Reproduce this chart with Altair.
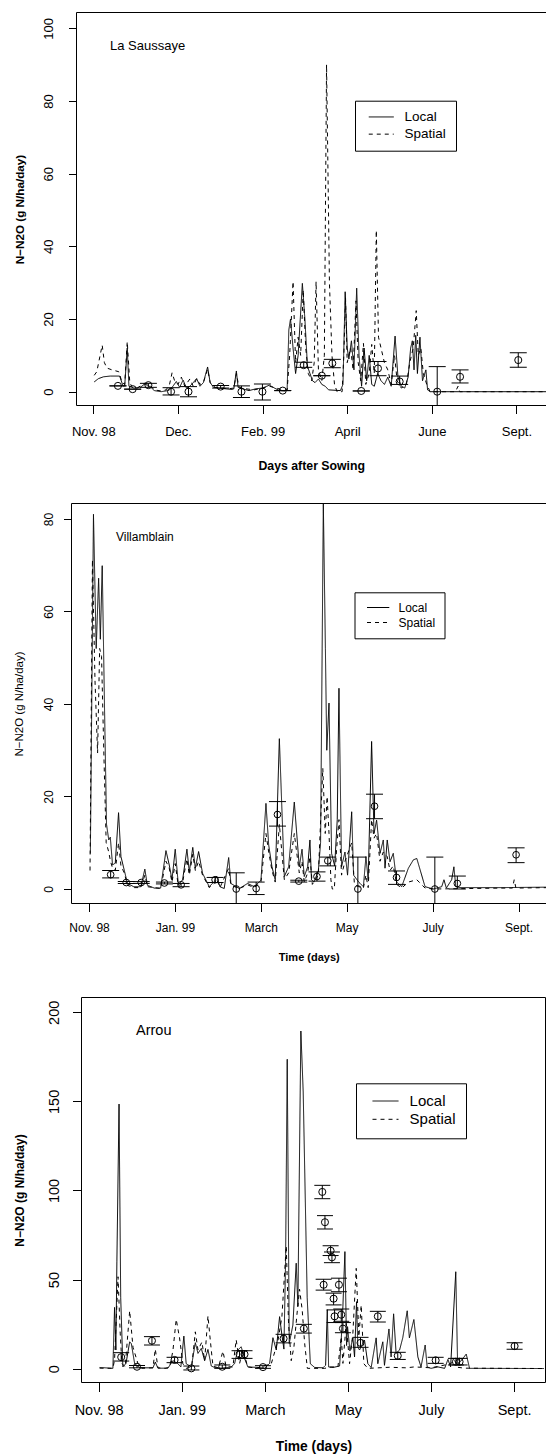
import altair as alt
import pandas as pd

FONT = "Liberation Sans"
TICK_DAYS = [0, 50, 100, 150, 200, 250]
P1_TICK_LABELS = ["Nov. 98", "Dec.", "Feb. 99", "April", "June", "Sept."]
P23_TICK_LABELS = ["Nov. 98", "Jan. 99", "March", "May", "July", "Sept."]
SERIES = ["Local", "Spatial"]
YTITLE = "N\u2212N2O (g N/ha/day)"

# ---------------- Panel 1 : La Saussaye ----------------
P1_LOCAL = [(0.5, 2.7), (3, 3.6), (6, 4.1), (10, 4.3), (15.5, 4.3), (17.5, 1.6), (18.5, 1.6), (20, 12), (21, 1.5),
            (24, 1.0), (28, 1.3), (30, 2.0), (32, 1.8), (34, 1.2), (36, 0.3), (40, 0), (44, 0.3), (45, 0.5),
            (47, 1.5), (49, 2.8), (51, 1.2), (53, 3.2), (55, 1.0), (57, 1.5), (59, 2.5), (61, 3.6), (63, 1.5),
            (65, 2.5), (67.5, 6.8), (69, 2.5), (71, 1.2), (74, 1.0), (78, 0.8), (82, 0.6), (83, 0.8), (84.5, 5.7),
            (85.5, 1.2), (88, 0.8), (92, 0.3), (96, 0.8), (100, 1.0), (104, 1.8), (107, 1.0), (110, 0.3),
            (113, 0.2), (114.5, 0.5), (115.5, 17), (116.5, 20), (118, 12), (119.5, 5), (121, 10), (123.5, 29.8),
            (125, 20), (126.5, 7), (128, 5), (129.5, 3), (131, 2.5), (133, 3.5), (135, 2), (137, 1.5), (139, 0.5),
            (146, 0.3), (147.5, 2), (148.8, 27.5), (150, 12), (151, 9), (152.5, 14), (154, 6), (155.6, 28.5),
            (157, 10), (158.5, 1.5), (160, 12), (161.5, 3), (163, 10), (164.5, 2), (166, 1.5), (168, 5), (170, 3),
            (172, 2), (174, 4), (176, 1.5), (178.3, 15.3), (180, 4), (182, 1.5), (184, 1), (186, 4), (187.5, 12),
            (188.5, 14), (189.5, 6), (190.5, 15.5), (191.5, 5), (193, 15), (194.5, 3), (196.5, 6), (197.5, 0.5),
            (199, 0), (268, 0)]
P1_SPATIAL = [(0.5, 4.5), (2, 5.5), (5.2, 12.8), (6.5, 8), (8, 6.5), (11, 6), (15, 5.5), (17, 2.5), (18.5, 2),
              (20, 13.8), (21.5, 2.5), (23, 1.2), (26, 1.0), (30, 2.3), (33, 2.0), (36, 0.5), (40, 0.2), (43, 0.5),
              (45, 2), (46.5, 5.2), (48, 3), (50, 2), (52, 4), (54, 1.5), (57, 3.5), (59, 1.5), (61, 3.6), (63, 2),
              (65, 2.5), (67.5, 6.2), (69, 2.5), (72, 1.2), (76, 1.0), (80, 0.8), (83, 1), (84.5, 5), (86, 1.3),
              (90, 0.8), (95, 0.5), (100, 1.0), (104, 1.5), (108, 1.0), (112, 0.5), (114.5, 0.5), (116, 10),
              (118, 30.3), (119.5, 8), (121, 15), (122.5, 10), (124, 28), (125.5, 12), (127, 5), (129, 3),
              (130.5, 8), (131.6, 30.3), (133, 6), (135, 3), (136.5, 10), (137.8, 90), (139.5, 30), (141, 10),
              (142.5, 2), (144, 0), (147, 0), (148, 10), (149, 26), (150, 8), (152, 12), (153.5, 6), (155.2, 25),
              (156.5, 8), (158, 3), (159.6, 13.3), (161, 2), (163, 5), (164.5, 13), (166, 5), (167.2, 44.4),
              (168.5, 15), (170, 12), (172, 8), (174, 6), (176, 2), (178, 10), (179.5, 3), (182, 1), (185, 2),
              (187, 8), (189, 12), (190.8, 22.3), (192, 10), (193.5, 12), (195, 5), (197, 2), (199, 0), (214, 0),
              (215.5, 1.5), (216.5, 0), (268, 0)]
# day, observed value, lower bar, upper bar
P1_OBS = [(14.5, 1.6, 1.6, 1.6), (23.2, 0.7, 0.7, 0.7), (32.5, 1.8, 1.2, 2.3), (45.9, 0.0, -0.9, 1.1),
          (56.2, 0.0, -1.4, 1.4), (75.2, 1.4, 1.0, 1.7), (87.5, 0.0, -1.6, 1.6), (99.9, 0.0, -2.3, 2.1),
          (111.9, 0.3, 0.3, 0.3), (124.3, 7.3, 6.7, 8.1), (135.0, 4.4, 4.4, 4.4), (141.2, 7.8, 6.6, 8.9),
          (158.3, 0.2, 0.2, 0.2), (168.2, 6.4, 4.4, 8.3), (181.0, 2.8, 2.0, 4.3), (203.2, 0.0, -6.9, 6.9),
          (216.7, 4.1, 2.4, 6.0), (251.1, 8.7, 6.7, 10.7)]

# ---------------- Panel 2 : Villamblain ----------------
P2_LOCAL = [(0.8, 7.7), (2.6, 81.0), (4.2, 52), (5.6, 67.2), (6.6, 54), (7.7, 69.9), (9.0, 40), (10.2, 14),
            (11.5, 10.6), (12.4, 11.2), (13.7, 5.2), (15.3, 5.6), (17.2, 16.5), (18.6, 7.0), (20.5, 4.1),
            (22.4, 1.2), (26, 0.5), (30.2, 0.5), (32.5, 4.3), (34, 0.8), (38, 0.2), (41.7, 0.2), (44.8, 8.3),
            (46.7, 5.2), (48.3, 2.0), (50.2, 8.6), (52, 0.9), (54.5, 2.0), (57, 8.6), (58.4, 3.7), (60.4, 9.0),
            (61.9, 4.5), (63.8, 8.1), (66.1, 3.4), (70, 0.5), (72.9, 1.6), (74.3, 2.8), (76.2, 0.5), (78.7, 0.1),
            (81.3, 6.8), (82.6, 1.2), (87.5, 0.1), (92.3, 1.2), (96.2, 0.5), (100.1, 1.9), (103, 18.5),
            (104.6, 9.5), (106.5, 4.8), (108.4, 2.0), (110.8, 32.5), (113.7, 2.7), (116.2, 4.8), (119.5, 18.8),
            (122.4, 4.8), (124, 8.6), (125.3, 2.7), (127.3, 4.8), (128.6, 10.6), (129.5, 2.0), (131, 1.5),
            (133.5, 4.0), (134.8, 10), (136.4, 90), (137.6, 52), (138.4, 30), (139.7, 40.2), (141.2, 7.7),
            (143, 5), (144.5, 15), (145.5, 43.4), (147, 4.8), (149, 8), (150.5, 3), (152.9, 16.7), (154, 3),
            (157, 1.5), (159.7, 0.5), (161.2, 7.0), (162.5, 2), (164.5, 31.9), (165.9, 12.0), (167.4, 14.9),
            (169.4, 7.7), (171.3, 10.6), (172.3, 4.5), (173.6, 10.6), (175.2, 5.9), (177.1, 7.7), (179.1, 1.5),
            (182, 0.5), (185.9, 4.5), (188.8, 6.3), (190.8, 6.6), (195.6, 0.5), (200.4, 0), (205.3, 0.5),
            (206.6, 2.0), (208, 0.2), (211.1, 2), (212.4, 4.8), (213.5, 0.5), (215.9, 0.3), (240, 0.3), (268, 0.4)]
P2_SPATIAL = [(0.6, 4.0), (2.0, 71.2), (3.5, 45), (5.0, 29.4), (6.2, 52), (7.3, 50.3), (8.6, 30), (10.0, 10),
              (11.5, 8), (12.5, 6), (13.7, 4.5), (15.3, 4), (17.2, 10), (18.6, 5), (20.5, 3.5), (22.4, 0.8),
              (26, 0.3), (30.2, 0.3), (32.5, 3.0), (34, 0.5), (41.7, 0.1), (44.8, 6), (46.7, 4.5), (48.3, 1.5),
              (50.2, 5.5), (52, 0.6), (54.5, 1.5), (57, 6.5), (58.4, 3), (60.4, 7.5), (61.9, 4), (63.8, 6),
              (66.1, 3), (70, 0.3), (72.9, 1.2), (74.3, 2.2), (76.2, 0.3), (81.3, 4.5), (82.6, 0.8), (87.5, 0.1),
              (92.3, 0.9), (96.2, 0.3), (100.1, 1.5), (103, 12), (104.6, 8), (106.5, 4), (108.4, 1.5), (110.8, 14),
              (113.7, 2), (116.2, 3.5), (119.5, 12), (122.4, 3.5), (124, 6), (125.3, 1.5), (127.3, 3.5),
              (128.6, 7), (130, 1), (133.5, 3), (136.1, 26.1), (137.5, 12), (138.6, 20), (139.7, 12), (140.8, 2),
              (141.6, 0), (142.8, 0), (144, 8), (145.5, 15), (147, 3), (149, 6), (152.9, 10), (154.5, 1),
              (157, 0.5), (159.7, 0.2), (161.2, 3), (162.5, 0.3), (164.5, 15), (165.9, 11), (167.4, 12),
              (169.4, 6), (171.3, 8), (173.6, 7), (175.2, 4), (177.1, 5), (179.1, 1), (182, 0.2), (185.9, 1.5),
              (190.8, 2), (195.6, 0.2), (200.4, 0), (240, 0.2), (246.5, 0.2), (247.5, 2.0), (248.5, 0.2),
              (268, 0.3)]
P2_OBS = [(12.6, 3.1, 2.4, 4.0), (21.7, 1.4, 1.2, 1.6), (30.4, 1.4, 1.2, 1.6), (43.9, 1.3, 1.1, 1.5),
          (53.6, 0.9, 0.5, 1.2), (73.4, 2.0, 1.4, 2.5), (85.7, 0.0, -3.5, 3.5), (97.3, 0.1, -1.2, 1.5),
          (109.7, 16.1, 13.6, 18.9), (122.1, 1.7, 1.5, 1.9), (132.7, 2.7, 1.7, 3.7), (139.0, 6.1, 5.0, 6.9),
          (156.5, 0.0, -6.9, 6.9), (166.2, 17.9, 15.2, 20.5), (179.0, 2.5, 1.0, 3.9), (201.3, 0.0, -6.9, 6.9),
          (214.4, 1.2, 0.0, 2.8), (248.6, 7.4, 5.7, 8.9)]

# ---------------- Panel 3 : Arrou ----------------
P3_LOCAL = [(0.6, 0.7), (5.6, 0.4), (8.6, 0.2), (9.6, 34.4), (10.4, 10.5), (11.0, 60), (12.3, 148.5), (13.3, 40),
            (14.6, 1), (16.5, 3), (18.7, 15.1), (19.7, 14), (21.7, 2.8), (25, 0.5), (32.7, 0.5), (34.1, 3.7),
            (35.7, 0.3), (41.7, 0.3), (44.7, 4.5), (47.7, 2.8), (49.5, 1), (51.3, 18.3), (52.7, 2.8), (55.8, 1),
            (58.2, 14.6), (59.8, 8.6), (61.8, 11.4), (63.8, 4.5), (65.8, 10.8), (67.8, 1.5), (69.8, 0.7),
            (73.8, 0.2), (79.8, 1), (81.8, 2.8), (83.8, 10.5), (85.8, 12.3), (87.8, 5.8), (89.8, 1), (95.9, 0.7),
            (99.9, 0.2), (102.9, 3), (104.9, 17.4), (106.9, 10.5), (108.9, 29.2), (110.3, 18.9), (111.5, 11),
            (112.5, 60), (113.5, 173.6), (114.7, 14.2), (116.9, 24.5), (118.9, 59.2), (119.9, 35), (121.7, 189.5),
            (123.1, 155.4), (125.5, 40), (127.4, 2.8), (130, 0.7), (135, 0.5), (136.6, 2), (137.6, 33.1),
            (138.4, 1.0), (141, 0.7), (145, 1.5), (146.2, 20), (147, 35), (148.2, 65.7), (149.2, 13),
            (149.8, 23.6), (151.2, 10), (153, 17.3), (154, 6.6), (155.2, 37.6), (156, 12), (157, 10.5), (160, 16),
            (162, 2.8), (164, 0.7), (167, 17.3), (168, 2.8), (171, 15.1), (172, 1.9), (174.7, 22.3), (176, 6.6),
            (177.5, 30.8), (179, 8.6), (181.1, 10.5), (183, 17.3), (185.7, 32.5), (187, 17.3), (189.7, 27.6),
            (192.1, 6.6), (194, 1), (196.5, 13.3), (197.7, 1), (200, 0.2), (204.2, 1), (208.2, 0.2), (210.2, 5.2),
            (211.8, 1), (214.9, 54.4), (216, 2.8), (218.2, 4.5), (221.2, 8.2), (223.2, 0.2), (268, 0.1)]
P3_SPATIAL = [(0.6, 0.3), (8.6, 0.2), (9.6, 5), (11.7, 51.6), (13.0, 20), (14.0, 3), (16, 1), (18.7, 32.5),
              (20.7, 12), (23.7, 2.8), (26, 0.3), (32.7, 0.5), (34.1, 11), (35.7, 0.5), (40, 0.2), (42.7, 0.8),
              (44.7, 10), (46.7, 27.7), (48.7, 17.3), (50.7, 2.8), (52.7, 0.2), (56, 1), (58.2, 20.7),
              (59.8, 10.5), (62.2, 15), (63.8, 4.5), (65.8, 29.6), (67.2, 16), (68.8, 1.5), (72, 0.5), (74.8, 9.8),
              (76.8, 1), (80.8, 1), (82.8, 16.2), (84.8, 2.8), (86.8, 10.5), (89.8, 1), (95, 0.3), (103.9, 2.8),
              (107.9, 15.6), (110.3, 29.2), (112.9, 68.9), (114.3, 25), (115.9, 4.5), (117.5, 12), (119.3, 30),
              (120.9, 44.6), (122.5, 33), (124, 14), (125.6, 0.2), (136, 0.2), (140, 1), (144, 1), (146, 18),
              (147, 3), (149, 25.4), (151, 2.8), (153, 20), (155, 56.3), (156.6, 18), (158, 35.7), (159.6, 2.8),
              (162, 0.2), (175, 0.8), (185, 0.5), (190, 1), (200, 0.5), (212, 2.8), (214, 5.2), (216, 0.8),
              (220, 0.3), (268, 0.1)]
P3_OBS = [(13.6, 6.5, 4.3, 9.0), (23.1, 1.1, 0.5, 1.8), (32.1, 15.7, 13.3, 18.0), (45.7, 4.9, 3.4, 6.4),
          (55.8, 0.2, -0.7, 1.5), (74.4, 1.1, 0.2, 2.1), (84.8, 8.1, 5.8, 10.1), (87.8, 8.1, 5.8, 10.1),
          (98.9, 0.9, 0.2, 1.7), (111.3, 16.9, 14.5, 19.3), (123.5, 22.5, 20.0, 24.9), (134.6, 99.2, 95.4, 102.9),
          (136.2, 82.2, 78.4, 85.9), (139.6, 66.2, 63.5, 69.0), (140.4, 62.5, 59.5, 65.5), (135.4, 47.1, 44.1, 50.2),
          (144.6, 47.1, 43.2, 50.8), (141.4, 39.3, 35.8, 42.4), (146.0, 30.3, 26.6, 33.5), (142.0, 29.4, 25.9, 33.0),
          (147.0, 22.5, 20.2, 25.9), (157.6, 14.5, 12.0, 17.6), (168.0, 29.4, 26.2, 32.2), (180.0, 7.3, 5.2, 9.2),
          (202.8, 4.7, 3.0, 6.4), (215.0, 3.9, 2.1, 5.8), (217.2, 3.9, 2.1, 5.8), (250.3, 12.7, 10.9, 14.6)]

SITE_NAMES = ["La Saussaye", "Villamblain", "Arrou"]
SITE_LABEL_POS = [(9.8, 95.1), (15.7, 76.2), (22.5, 189.5)]

W, H = 546, 1454


def label_expr(labels):
    expr = "''"
    for d, lab in reversed(list(zip(TICK_DAYS, labels))):
        expr = f"datum.value == {d} ? '{lab}' : ({expr})"
    return expr


ONE = pd.DataFrame({"k": [0]})


def legend_for(st):
    # legend symbol: a horizontal stroke drawn as a custom path so that the row height
    # follows the label font and not the stroke length
    s = 10.0                      # nominal symbol size (px)
    scale = s / 2
    start = (st["lg_line_start"] - st["lgpad"] - s / 2) / scale
    end = start + st["lg_line_len"] / scale
    path = f"M{start:.3f},0H{end:.3f}"
    return alt.Legend(title=None, orient="none", legendX=st["lgx"], legendY=st["lgy"], strokeColor="black",
                      fillColor="white", padding=st["lgpad"], rowPadding=st["lgrow"], symbolType=path,
                      symbolSize=s * s, symbolStrokeWidth=1, symbolStrokeColor="black", symbolFillColor="transparent",
                      labelFontSize=st["lgfs"], labelFont=FONT, labelColor="black",
                      labelOffset=st["lg_label_x"] - st["lgpad"] - s)


def panel(local, spatial, obs, site, site_pos, tick_labels, st):
    lines_df = pd.DataFrame(
        [{"day": d, "value": v, "series": "Local"} for d, v in local]
        + [{"day": d, "value": v, "series": "Spatial"} for d, v in spatial]
    )
    obs_df = pd.DataFrame(obs, columns=["day", "val", "lo", "hi"])
    txt_df = pd.DataFrame({"day": [site_pos[0]], "val": [site_pos[1]], "name": [site]})
    left, right, top, bot = st["left"], st["right"], st["top"], st["bot"]

    xs = alt.Scale(domain=[TICK_DAYS[0], TICK_DAYS[-1]], range=st["xrange"], nice=False, zero=False)
    ys = alt.Scale(domain=st["ydom"], range=[bot, top], nice=False, zero=False, clamp=True)
    xaxis = alt.Axis(orient="bottom", offset=bot - H, values=TICK_DAYS, labelExpr=label_expr(tick_labels),
                     title=st["xtitle"], grid=False, domain=False, ticks=True, tickSize=st["tick"],
                     tickColor="black", tickWidth=1, labelFontSize=st["lfs"], labelFont=FONT, labelColor="black",
                     labelPadding=st["xlpad"], labelBaseline="middle", labelFlush=False, labelOverlap=False,
                     titleFont=FONT, titleFontSize=st["xtfs"], titleFontWeight="bold", titleColor="black",
                     titleX=(left + right) / 2, titleY=st["xty"], titleAlign="center", titleBaseline="middle")
    yaxis = alt.Axis(orient="left", offset=-left, values=st["yticks"], title=YTITLE, grid=False, domain=False,
                     tickSize=st["tick"], tickColor="black", tickWidth=1, labelFontSize=st["lfs"], labelFont=FONT,
                     labelColor="black", labelAngle=270, labelAlign="center", labelBaseline="middle",
                     labelPadding=st["ylpad"], labelFlush=False, labelOverlap=False,
                     titleFont=FONT, titleFontSize=st["ytfs"], titleFontWeight=st["ytfw"], titleColor="black",
                     titleAngle=270, titleAlign="center", titleBaseline="middle", titleX=st["ytitle_x"] - left,
                     titleY=(top + bot) / 2)
    X = alt.X("day:Q", scale=xs, axis=xaxis)

    lines = alt.Chart(lines_df).mark_line(color="black", strokeWidth=1).encode(
        x=X,
        y=alt.Y("value:Q", scale=ys, axis=yaxis),
        strokeDash=alt.StrokeDash("series:N", scale=alt.Scale(domain=SERIES, range=[[1, 0], [4, 4]]),
                                  legend=legend_for(st)),
    )
    base = alt.Chart(obs_df)
    bars = base.mark_rule(color="black", strokeWidth=1).encode(
        x=X, y=alt.Y("lo:Q", scale=ys, axis=yaxis), y2="hi:Q")
    cap_lo = base.mark_tick(orient="horizontal", color="black", size=st["cap"], thickness=1,
                            opacity=1).encode(x=X, y=alt.Y("lo:Q", scale=ys, axis=yaxis))
    cap_hi = base.mark_tick(orient="horizontal", color="black", size=st["cap"], thickness=1,
                            opacity=1).encode(x=X, y=alt.Y("hi:Q", scale=ys, axis=yaxis))
    pts = base.mark_point(shape="circle", filled=False, color="black", size=st["pt"], strokeWidth=1,
                          opacity=1).encode(x=X, y=alt.Y("val:Q", scale=ys, axis=yaxis))
    txt = alt.Chart(txt_df).mark_text(align="left", baseline="middle", font=FONT, fontSize=st["afs"],
                                      color="black").encode(x=X, y=alt.Y("val:Q", scale=ys, axis=yaxis),
                                                            text="name:N")
    # plot box
    fr = alt.Chart(ONE)
    frame = [
        fr.mark_rule(color="black", strokeWidth=1).encode(x=alt.value(left), y=alt.value(top), y2=alt.value(bot)),
        fr.mark_rule(color="black", strokeWidth=1).encode(x=alt.value(left), x2=alt.value(right), y=alt.value(top)),
        fr.mark_rule(color="black", strokeWidth=1).encode(x=alt.value(left), x2=alt.value(right), y=alt.value(bot)),
    ]
    if right < W:
        frame.append(fr.mark_rule(color="black", strokeWidth=1).encode(
            x=alt.value(right), y=alt.value(top), y2=alt.value(bot)))
    return alt.layer(lines, bars, cap_lo, cap_hi, pts, txt, *frame)


S1 = dict(left=76.5, right=W, top=12.5, bot=405.5, xrange=[93.4, 516.4], ydom=[-3.80, 104.35],
          yticks=[0, 20, 40, 60, 80, 100], lfs=13, tick=8, ylpad=20.2, xlpad=18.2, xtitle="Days after Sowing",
          xtfs=12.3, xty=59.5, ytfs=11.7, ytfw="bold", ytitle_x=19,
          lgx=355, lgy=100.7, lgpad=9.5, lgrow=2.2, lgfs=13.5, lg_line_start=12, lg_line_len=25, lg_label_x=46,
          afs=13, cap=17, pt=50)
S2 = dict(left=71.5, right=W, top=503.5, bot=903.5, xrange=[89.0, 518.5], ydom=[-3.135, 83.35],
          yticks=[0, 20, 40, 60, 80], lfs=12, tick=8, ylpad=15.2, xlpad=15.8, xtitle="Time (days)",
          xtfs=11, xty=54, ytfs=11.5, ytfw="normal", ytitle_x=19,
          lgx=354.5, lgy=592.3, lgpad=9.2, lgrow=3, lgfs=12, lg_line_start=11.5, lg_line_len=22.3, lg_label_x=42,
          afs=12, cap=17, pt=45)
S3 = dict(left=81.5, right=545.5, top=997.5, bot=1382.5, xrange=[98.6, 514.1], ydom=[-7.74, 208.3],
          yticks=[0, 50, 100, 150, 200], lfs=14.5, tick=9, ylpad=18.3, xlpad=19.2, xtitle="Time (days)",
          xtfs=13.8, xty=64.2, ytfs=12, ytfw="bold", ytitle_x=19.2,
          lgx=356, lgy=1083.3, lgpad=10.2, lgrow=2.3, lgfs=15, lg_line_start=14, lg_line_len=26, lg_label_x=48.6,
          afs=14.5, cap=16, pt=50)

p1 = panel(P1_LOCAL, P1_SPATIAL, P1_OBS, SITE_NAMES[0], SITE_LABEL_POS[0], P1_TICK_LABELS, S1)
p2 = panel(P2_LOCAL, P2_SPATIAL, P2_OBS, SITE_NAMES[1], SITE_LABEL_POS[1], P23_TICK_LABELS, S2)
p3 = panel(P3_LOCAL, P3_SPATIAL, P3_OBS, SITE_NAMES[2], SITE_LABEL_POS[2], P23_TICK_LABELS, S3)

chart = (
    alt.layer(p1, p2, p3)
    .resolve_scale(x="independent", y="independent", strokeDash="independent")
    .resolve_axis(x="independent", y="independent")
    .resolve_legend(strokeDash="independent")
    .properties(width=W, height=H, autosize=alt.AutoSizeParams(type="none"), padding=0, background="white")
    .configure_view(stroke=None)
)

chart.save("out.html", embed_options={"renderer": "svg", "actions": False})
